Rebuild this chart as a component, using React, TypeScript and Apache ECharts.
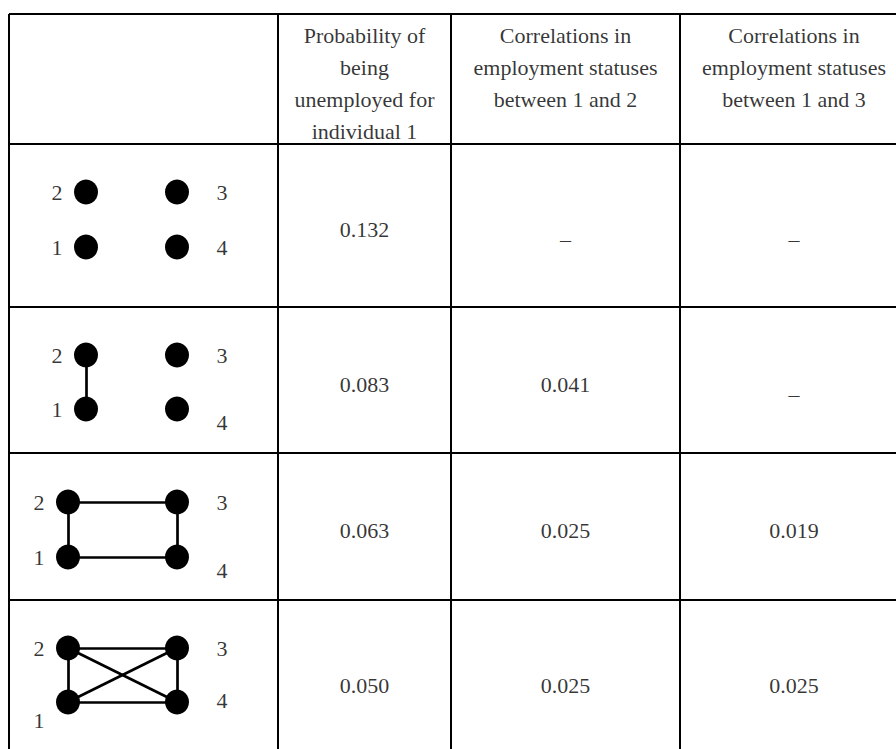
import React, { useEffect, useRef } from "react";
import * as echarts from "echarts";

// ---------- data ----------
const COLUMN_HEADERS = [
  "",
  "Probability of\nbeing\nunemployed for\nindividual 1",
  "Correlations in\nemployment statuses\nbetween 1 and 2",
  "Correlations in\nemployment statuses\nbetween 1 and 3",
];
const PROB_UNEMPLOYED: (number | null)[] = [0.132, 0.083, 0.063, 0.05];
const CORR_1_2: (number | null)[] = [null, 0.041, 0.025, 0.025];
const CORR_1_3: (number | null)[] = [null, null, 0.019, 0.025];
const NODE_IDS = [1, 2, 3, 4];
const NETWORK_EDGES: number[][][] = [
  [],
  [[1, 2]],
  [[1, 2], [2, 3], [3, 4], [4, 1]],
  [[1, 2], [2, 3], [3, 4], [4, 1], [2, 4], [1, 3]],
];
const MISSING = "–";

// ---------- layout (page pixels) ----------
const COL_X = [9, 278, 451, 680, 908];
const ROW_Y = [14, 144, 307, 453, 600, 762];
const NODE_X = [[86, 177], [86, 177], [68, 177], [68, 177]]; // left, right
const NODE_Y = [[192, 247], [355, 409], [502, 557], [648, 702]]; // top, bottom
const LEFT_LABEL_DX = -29;
const RIGHT_LABEL_X = 222;
const LABEL_DY: Record<number, number[]> = {
  1: [0, 0, 0, 18],
  2: [0, 0, 0, 0],
  3: [0, 0, 0, 0],
  4: [0, 13, 13, -2],
};

const FONT = '"Liberation Serif", "Times New Roman", serif';

function nodePos(row: number, id: number): [number, number] {
  const [lx, rx] = NODE_X[row];
  const [ty, by] = NODE_Y[row];
  if (id === 1) return [lx, by];
  if (id === 2) return [lx, ty];
  if (id === 3) return [rx, ty];
  return [rx, by];
}

export default function App() {
  const ref = useRef<HTMLDivElement>(null);

  useEffect(() => {
    if (!ref.current) return;
    const chart = echarts.init(ref.current, null, { renderer: "svg" });

    // table rules
    const gridLines: any[] = [];
    ROW_Y.forEach((y) =>
      gridLines.push({ coords: [[COL_X[0], y], [COL_X[COL_X.length - 1], y]] })
    );
    COL_X.forEach((x) =>
      gridLines.push({ coords: [[x, ROW_Y[0]], [x, ROW_Y[ROW_Y.length - 1]]] })
    );

    // header texts
    const headerData: any[] = [];
    COLUMN_HEADERS.forEach((h, c) => {
      if (!h) return;
      const n = h.split("\n").length;
      headerData.push({
        name: h,
        value: [(COL_X[c] + COL_X[c + 1]) / 2, ROW_Y[0] + 5 + n * 16],
      });
    });

    // value texts
    const valueData: any[] = [];
    const cols = [PROB_UNEMPLOYED, CORR_1_2, CORR_1_3];
    cols.forEach((arr, ci) => {
      const c = ci + 1;
      arr.forEach((v, r) => {
        const x = (COL_X[c] + COL_X[c + 1]) / 2;
        const y = (ROW_Y[r + 1] + ROW_Y[r + 2]) / 2 + 4;
        if (v === null) {
          valueData.push({ name: MISSING, value: [x, y], label: { offset: [0, 10] } });
        } else {
          valueData.push({ name: v.toFixed(3), value: [x, y] });
        }
      });
    });

    // nodes, edges, node labels
    const nodeData: any[] = [];
    const edgeData: any[] = [];
    const nodeLabelData: any[] = [];
    NETWORK_EDGES.forEach((edges, r) => {
      NODE_IDS.forEach((id) => {
        const p = nodePos(r, id);
        nodeData.push({ value: p });
        const lx = id <= 2 ? p[0] + LEFT_LABEL_DX : RIGHT_LABEL_X;
        nodeLabelData.push({ name: String(id), value: [lx, p[1] + LABEL_DY[id][r]] });
      });
      edges.forEach(([a, b]) => {
        edgeData.push({ coords: [nodePos(r, a), nodePos(r, b)] });
      });
    });

    const textLabel = {
      show: true,
      position: "inside",
      formatter: "{b}",
      fontFamily: FONT,
      fontSize: 22,
      lineHeight: 32,
      color: "#000",
    };

    chart.setOption({
      animation: false,
      backgroundColor: "#fff",
      grid: { left: 0, right: 0, top: 0, bottom: 0 },
      xAxis: { type: "value", min: 0, max: 896, show: false },
      yAxis: { type: "value", min: 0, max: 749, inverse: true, show: false },
      series: [
        {
          type: "lines",
          coordinateSystem: "cartesian2d",
          silent: true,
          z: 1,
          lineStyle: { color: "#000", width: 2, opacity: 1 },
          data: gridLines,
        },
        {
          type: "lines",
          coordinateSystem: "cartesian2d",
          silent: true,
          z: 2,
          lineStyle: { color: "#000", width: 2.7, opacity: 1 },
          data: edgeData,
        },
        {
          type: "scatter",
          silent: true,
          z: 3,
          symbol: "circle",
          symbolSize: [24, 25],
          itemStyle: { color: "#000", opacity: 1 },
          data: nodeData,
        },
        {
          type: "scatter",
          silent: true,
          z: 4,
          symbolSize: 1,
          itemStyle: { color: "rgba(0,0,0,0)" },
          label: textLabel,
          data: nodeLabelData,
        },
        {
          type: "scatter",
          silent: true,
          z: 4,
          symbolSize: 1,
          itemStyle: { color: "rgba(0,0,0,0)" },
          label: textLabel,
          data: headerData,
        },
        {
          type: "scatter",
          silent: true,
          z: 4,
          symbolSize: 1,
          itemStyle: { color: "rgba(0,0,0,0)" },
          label: textLabel,
          data: valueData,
        },
      ],
    });

    return () => chart.dispose();
  }, []);

  return (
    <div
      ref={ref}
      style={{ position: "absolute", left: 0, top: 0, width: 896, height: 749 }}
    />
  );
}
